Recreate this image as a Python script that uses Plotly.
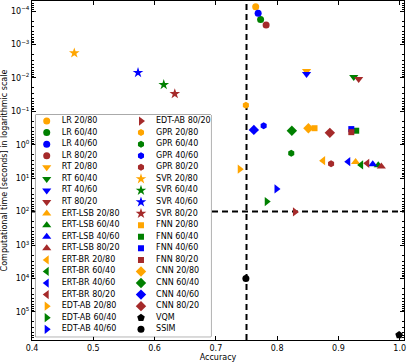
import plotly.graph_objects as go

# ---------------------------------------------------------
# Données : précision et temps de calcul (s) par méthode
# ordre des splits : 20/80, 60/40, 40/60, 80/20
# ---------------------------------------------------------
splits = ["20/80", "60/40", "40/60", "80/20"]
methods = ["LR", "RT", "ERT-LSB", "ERT-BR", "EDT-AB", "GPR", "SVR", "FNN", "CNN"]

lr_acc = [0.765, 0.773, 0.769, 0.782]
lr_time = [7.4e-5, 1.8e-4, 1.17e-4, 2.6e-4]

rt_acc = [0.848, 0.925, 0.848, 0.933]
rt_time = [6.2e-3, 9.4e-3, 7.7e-3, 1.08e-2]

ert_lsb_acc = [0.928, 0.965, 0.956, 0.970]
ert_lsb_time = [3.3, 4.1, 3.8, 4.5]

ert_br_acc = [0.875, 0.937, 0.916, 0.947]
ert_br_time = [3.0, 4.0, 3.2, 3.6]

edt_ab_acc = [0.739, 0.783, 0.799, 0.829]
edt_ab_time = [5.4, 50, 21, 102]

gpr_acc = [0.749, 0.823, 0.778, 0.888]
gpr_time = [0.066, 1.8, 0.27, 3.7]

svr_acc = [0.469, 0.615, 0.573, 0.633]
svr_time = [1.8e-3, 0.016, 7.0e-3, 0.030]

fnn_acc = [0.861, 0.929, 0.921, 0.921]
fnn_time = [0.32, 0.38, 0.34, 0.42]

cnn_acc = [0.851, 0.824, 0.762, 0.886]
cnn_time = [0.32, 0.38, 0.36, 0.44]

vqm_acc = [0.999]
vqm_time = [4.9e5]

ssim_acc = [0.749]
ssim_time = [1.0e4]

# seuils (lignes pointillées)
acc_threshold = 0.75
time_threshold = 100

y_tick_vals = [1e-4, 1e-3, 1e-2, 1e-1, 1e0, 1e1, 1e2, 1e3, 1e4, 1e5]
y_tick_text = ["10<sup>−4</sup>", "10<sup>−3</sup>", "10<sup>−2</sup>", "10<sup>−1</sup>",
               "10<sup>0</sup>", "10<sup>1</sup>", "10<sup>2</sup>", "10<sup>3</sup>",
               "10<sup>4</sup>", "10<sup>5</sup>"]
x_tick_vals = [0.4, 0.5, 0.6, 0.7, 0.8, 0.9, 1.0]

# ---------------------------------------------------------
# Styles
# ---------------------------------------------------------
split_colors = ["#FFA500", "#008000", "#0000FF", "#A52A2A"]
method_symbols = {
    "LR": ("circle", 7), "RT": ("triangle-down", 8), "ERT-LSB": ("triangle-up", 8),
    "ERT-BR": ("triangle-left", 8), "EDT-AB": ("triangle-right", 8),
    "GPR": ("hexagon", 7), "SVR": ("star", 8), "FNN": ("square", 6),
    "CNN": ("diamond", 8),
}
FONT = "DejaVu Sans"

all_acc = [lr_acc, rt_acc, ert_lsb_acc, ert_br_acc, edt_ab_acc,
           gpr_acc, svr_acc, fnn_acc, cnn_acc]
all_time = [lr_time, rt_time, ert_lsb_time, ert_br_time, edt_ab_time,
            gpr_time, svr_time, fnn_time, cnn_time]

fig = go.Figure()

# Nuage principal
for m, acc, t in zip(methods, all_acc, all_time):
    sym, size = method_symbols[m]
    fig.add_trace(go.Scatter(
        x=acc, y=t, mode="markers", name=m,
        marker=dict(symbol=sym, size=size, color=split_colors, opacity=1,
                    line=dict(width=0)),
    ))

fig.add_trace(go.Scatter(x=vqm_acc, y=vqm_time, mode="markers", name="VQM",
                         marker=dict(symbol="pentagon", size=8, color="black", opacity=1)))
fig.add_trace(go.Scatter(x=ssim_acc, y=ssim_time, mode="markers", name="SSIM",
                         marker=dict(symbol="circle", size=7, color="black", opacity=1)))

# ---------------------------------------------------------
# Légende sur deux colonnes (sous-graphe en incrustation)
# ---------------------------------------------------------
leg_names, leg_symbols, leg_sizes, leg_colors = [], [], [], []
for m in methods:
    for s, c in zip(splits, split_colors):
        leg_names.append(f"{m} {s}")
        leg_symbols.append(method_symbols[m][0])
        leg_sizes.append(method_symbols[m][1])
        leg_colors.append(c)
leg_names += ["VQM", "SSIM"]
leg_symbols += ["pentagon", "circle"]
leg_sizes += [8, 7]
leg_colors += ["black", "black"]

n_rows = (len(leg_names) + 1) // 2
leg_col = [i // n_rows for i in range(len(leg_names))]
leg_row = [i % n_rows for i in range(len(leg_names))]

fig.add_trace(go.Scatter(
    x=leg_col, y=leg_row, mode="markers", xaxis="x2", yaxis="y2",
    marker=dict(symbol=leg_symbols, size=leg_sizes, color=leg_colors, opacity=1,
                line=dict(width=0)),
    hoverinfo="skip",
))
fig.add_trace(go.Scatter(
    x=[c + 0.16 for c in leg_col], y=leg_row, mode="text", xaxis="x2", yaxis="y2",
    text=leg_names, textposition="middle right",
    textfont=dict(family=FONT, size=8, color="black"),
    hoverinfo="skip",
))

# lignes de seuil + cadre de la légende
fig.add_shape(type="line", xref="x", yref="paper", x0=acc_threshold, x1=acc_threshold,
              y0=0, y1=1, line=dict(color="black", width=2, dash="6px,4px"), layer="below")
fig.add_shape(type="line", xref="paper", yref="y", x0=0, x1=1,
              y0=time_threshold, y1=time_threshold,
              line=dict(color="black", width=2, dash="6px,4px"), layer="below")
fig.add_shape(type="rect", xref="paper", yref="paper", x0=0.0094, x1=0.481,
              y0=0.0097, y1=0.6637, fillcolor="white",
              line=dict(color="#555555", width=1), layer="below")

axis_common = dict(
    showline=True, linecolor="black", linewidth=1, mirror="allticks",
    ticks="inside", ticklen=4, tickcolor="black", showgrid=False, zeroline=False,
    automargin=False,
    tickfont=dict(family=FONT, size=8, color="black"),
)

fig.update_layout(
    width=407, height=364,
    margin=dict(l=32, r=3, t=1, b=24),
    paper_bgcolor="white", plot_bgcolor="white",
    showlegend=False,
    font=dict(family=FONT, size=8, color="black"),
    xaxis=dict(
        range=[0.4, 1.007], tickvals=x_tick_vals, tickformat=".1f",
        title=dict(text="Accuracy", font=dict(family=FONT, size=8), standoff=2),
        **axis_common,
    ),
    yaxis=dict(
        type="log", range=[5.84, -4.30], tickvals=y_tick_vals, ticktext=y_tick_text,
        minor=dict(ticks="inside", ticklen=2, tickcolor="black",
                   tickvals=[k * 10.0 ** e for e in range(-5, 6) for k in range(2, 10)]),
        title=dict(text="Computational time [seconds] in logarithmic scale",
                   font=dict(family=FONT, size=8), standoff=2),
        **axis_common,
    ),
    xaxis2=dict(domain=[0.0094, 0.481], range=[-0.119, 1.742], anchor="y2",
                visible=False),
    yaxis2=dict(domain=[0.0097, 0.6637], range=[18.64, -0.519], anchor="x2",
                visible=False),
)

# la page HTML a une marge de 8 px par défaut : on la supprime
fig.write_html("out.html", config={"displayModeBar": False},
               post_script="document.body.style.margin = '0';")
